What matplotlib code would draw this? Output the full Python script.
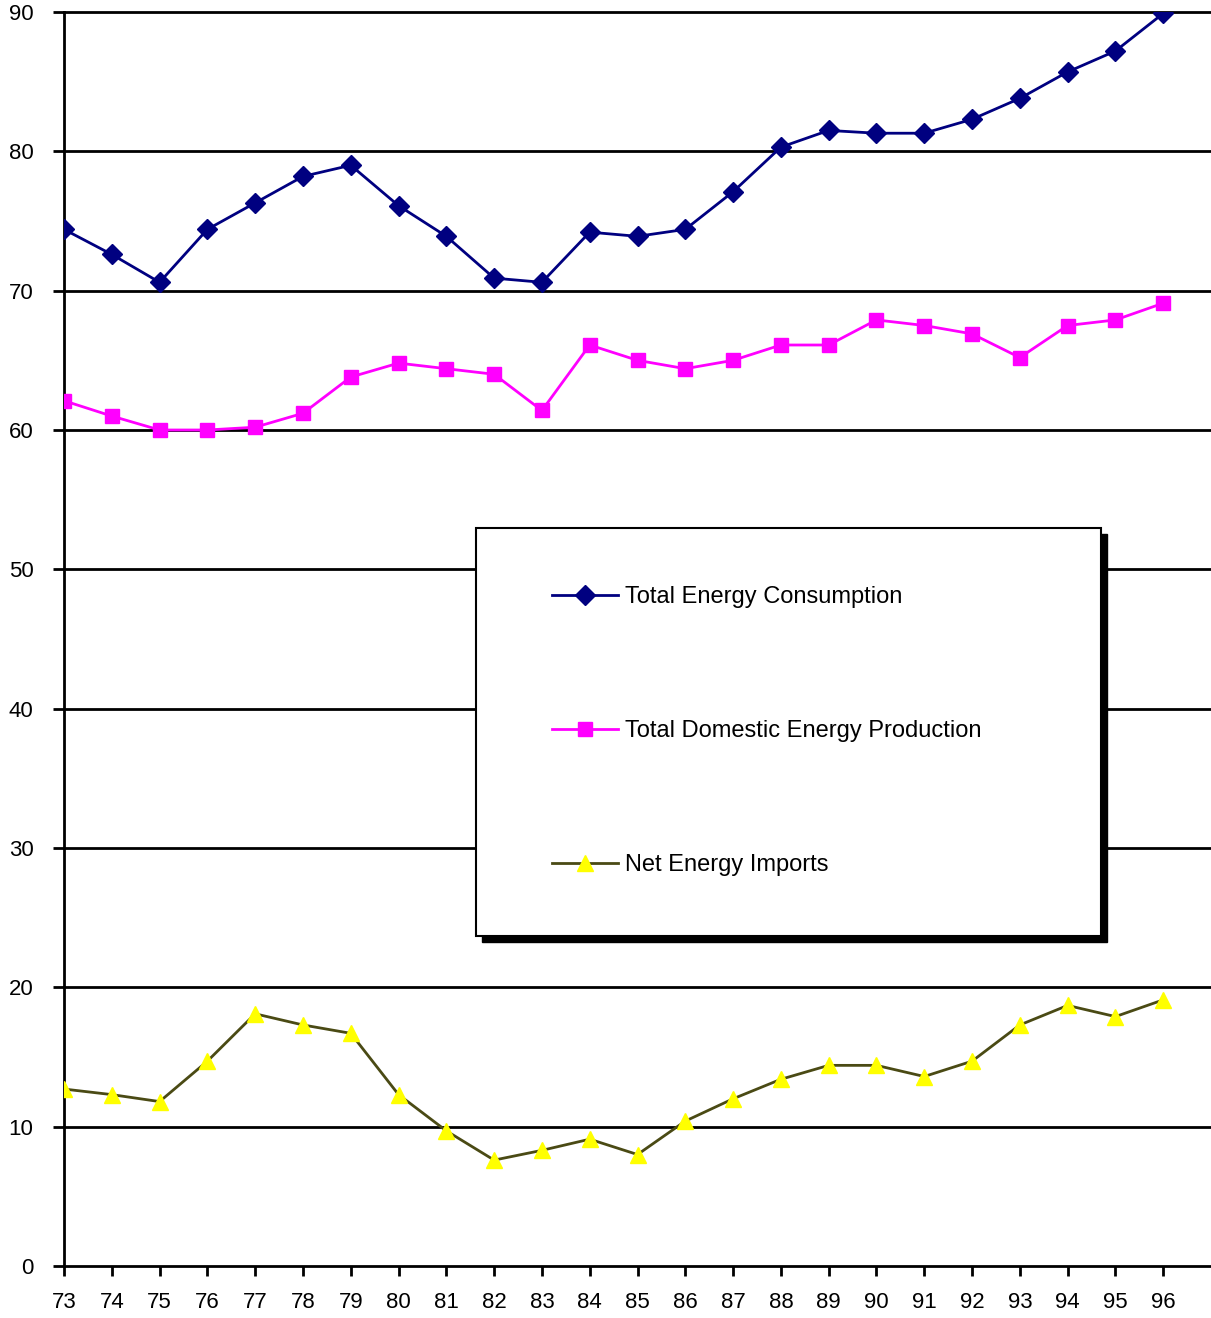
import matplotlib
matplotlib.use("Agg")
import matplotlib.pyplot as plt
from matplotlib.patches import Rectangle

years = ['73', '74', '75', '76', '77', '78', '79', '80', '81', '82', '83', '84',
         '85', '86', '87', '88', '89', '90', '91', '92', '93', '94', '95', '96']
consumption = [74.4, 72.6, 70.6, 74.4, 76.3, 78.2, 79.0, 76.1, 73.9, 70.9, 70.6, 74.2,
               73.9, 74.4, 77.1, 80.3, 81.5, 81.3, 81.3, 82.3, 83.8, 85.7, 87.2, 89.9]
production = [62.1, 61.0, 60.0, 60.0, 60.2, 61.2, 63.8, 64.8, 64.4, 64.0, 61.4, 66.1,
              65.0, 64.4, 65.0, 66.1, 66.1, 67.9, 67.5, 66.9, 65.2, 67.5, 67.9, 69.1]
imports = [12.7, 12.3, 11.8, 14.7, 18.1, 17.3, 16.7, 12.3, 9.7, 7.6, 8.3, 9.1,
           8.0, 10.4, 12.0, 13.4, 14.4, 14.4, 13.6, 14.7, 17.3, 18.7, 17.9, 19.1]
labels = ['Total Energy Consumption', 'Total Domestic Energy Production', 'Net Energy Imports']

plt.rcParams['font.family'] = ['Liberation Sans', 'DejaVu Sans']

fig = plt.figure(figsize=(12.11, 13.18), dpi=100)
ax = fig.add_axes([64/1211, 52/1318, 1147/1211, 1254/1318])

x = list(range(len(years)))
l1, = ax.plot(x, consumption, color='#000080', lw=2, marker='D', ms=10.5, mfc='#000080', mec='#000080', zorder=3)
l2, = ax.plot(x, production, color='#FF00FF', lw=2, marker='s', ms=10, mfc='#FF00FF', mec='#FF00FF', zorder=3)
l3, = ax.plot(x, imports, color='#4a4a14', lw=2, marker='^', ms=12, mfc='#FFFF00', mec='#FFFF00', zorder=3)

ax.set_xlim(0, len(years))
ax.set_ylim(0, 90)
ax.set_xticks(x)
ax.set_xticklabels(years, fontsize=16)
ax.set_yticks(range(0, 91, 10))
ax.set_yticklabels([str(v) for v in range(0, 91, 10)], fontsize=16)
ax.tick_params(axis='x', direction='out', length=7, width=2, pad=12)
ax.tick_params(axis='y', direction='out', length=8, width=2, pad=14)
for v in range(10, 91, 10):
    ax.axhline(v, color='black', lw=2, zorder=1, clip_on=False)
for s in ['top', 'right']:
    ax.spines[s].set_visible(False)
ax.spines['left'].set_linewidth(2)
ax.spines['bottom'].set_linewidth(2)

# legend box with shadow
x0, x1 = (476-64)/1147, (1101-64)/1147
y0, y1 = (1266-936)/1254, (1266-528)/1254
ax.add_patch(Rectangle((x0 + 6/1147, y0 - 6/1254), x1 - x0, y1 - y0, transform=ax.transAxes,
                       facecolor='black', edgecolor='black', zorder=4))
ax.add_patch(Rectangle((x0, y0), x1 - x0, y1 - y0, transform=ax.transAxes,
                       facecolor='white', edgecolor='black', lw=1.5, zorder=5))
leg = ax.legend([l1, l2, l3], labels, loc='center left',
                bbox_to_anchor=((552-64)/1147, (1266-731)/1254), frameon=False,
                fontsize=17, labelspacing=4.75, handlelength=2.8, handletextpad=0.3,
                borderpad=0, borderaxespad=0)
leg.set_zorder(6)

fig.savefig('out.png', dpi=100)
